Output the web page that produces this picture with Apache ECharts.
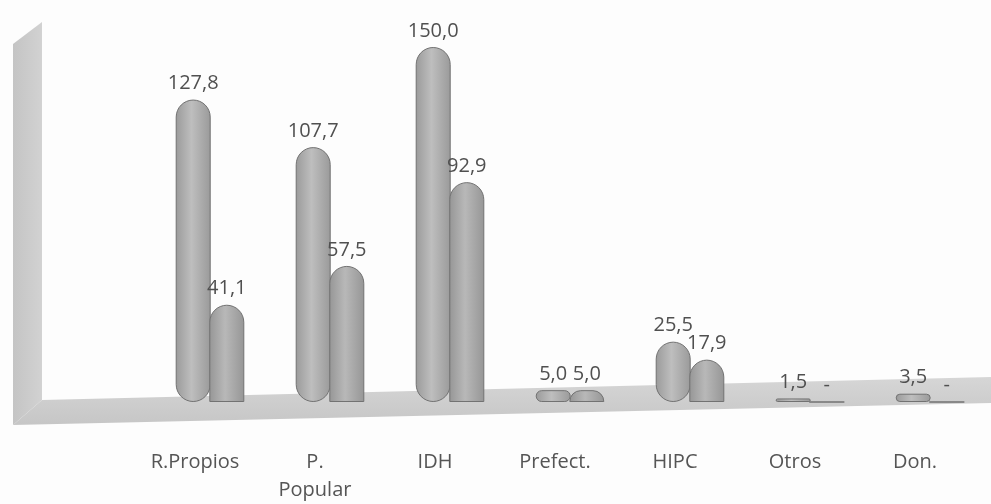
<!DOCTYPE html>
<html>
<head>
<meta charset="utf-8">
<script src="https://cdn.jsdelivr.net/npm/echarts@6/dist/echarts.min.js"></script>
<style>
html,body{margin:0;padding:0;background:#fdfdfd;}
#chart{width:991px;height:504px;}
</style>
</head>
<body>
<div id="chart"></div>
<script>
const categories = ['R.Propios', 'P.\nPopular', 'IDH', 'Prefect.', 'HIPC', 'Otros', 'Don.'];
const seriesA = [127.8, 107.7, 150.0, 5.0, 25.5, 1.5, 3.5];
const seriesB = [41.1, 57.5, 92.9, 5.0, 17.9, 0, 0];
const yMin = 0;
const yMax = 150;

function fmt(p) {
  if (!p.value) return '-';
  return p.value.toFixed(1).replace('.', ',');
}
function barFill(c1, c2) {
  return new echarts.graphic.LinearGradient(0, 0, 1, 0, [
    {offset: 0, color: c1},
    {offset: 0.45, color: c2},
    {offset: 1, color: c1}
  ]);
}
const labelStyle = {
  show: true, position: 'top', distance: 6,
  fontFamily: 'Open Sans', fontSize: 20, color: '#505050',
  formatter: fmt
};

const chart = echarts.init(document.getElementById('chart'));
chart.setOption({
  backgroundColor: '#fdfdfd',
  animation: false,
  graphic: [
    {
      type: 'polygon', z: 0, silent: true,
      shape: {points: [[13, 44], [42, 22], [42, 400], [13, 425]]},
      style: {fill: new echarts.graphic.LinearGradient(0, 0, 1, 0, [
        {offset: 0, color: '#c4c4c4'}, {offset: 1, color: '#d2d2d2'}])}
    },
    {
      type: 'polygon', z: 0, silent: true,
      shape: {points: [[42, 400], [991, 377], [991, 403], [13, 425]]},
      style: {fill: new echarts.graphic.LinearGradient(0, 0, 0, 1, [
        {offset: 0, color: '#d6d6d6'}, {offset: 1, color: '#c6c6c6'}])}
    }
  ],
  grid: {left: 150, right: 1, top: 47, bottom: 102, containLabel: false},
  xAxis: {
    type: 'category',
    data: categories,
    axisLine: {show: false},
    axisTick: {show: false},
    axisLabel: {
      margin: 46, fontFamily: 'Open Sans', fontSize: 20, color: '#555',
      lineHeight: 28, padding: [0, 30, 0, 0]
    }
  },
  yAxis: {
    type: 'value', min: yMin, max: yMax,
    show: false, splitLine: {show: false}
  },
  series: [
    {
      type: 'bar', data: seriesA, barWidth: 35, barGap: '-4%',
      itemStyle: {
        color: barFill('#9a9a9a', '#bebebe'),
        borderColor: '#727272', borderWidth: 1, borderRadius: 18
      },
      label: labelStyle
    },
    {
      type: 'bar', data: seriesB, barWidth: 35,
      itemStyle: {
        color: barFill('#969696', '#b8b8b8'),
        borderColor: '#727272', borderWidth: 1, borderRadius: [18, 18, 0, 0]
      },
      label: labelStyle
    }
  ]
});
</script>
</body>
</html>
